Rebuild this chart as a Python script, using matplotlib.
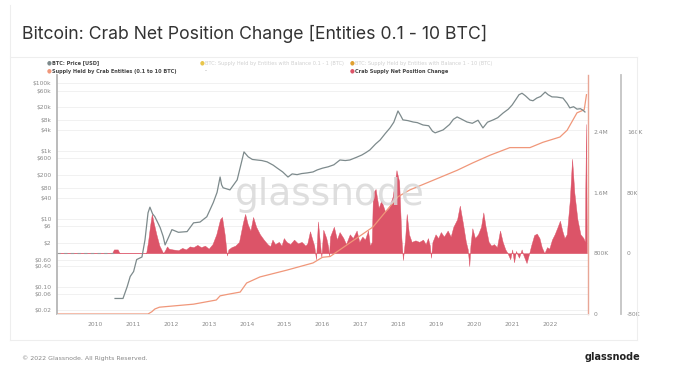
import matplotlib.pyplot as plt
from matplotlib.lines import Line2D
import numpy as np

# --- datos ---
price_years = [2010.53, 2010.74, 2010.85, 2010.93, 2011.02, 2011.1, 2011.24, 2011.32, 2011.4, 2011.45,
               2011.52, 2011.58, 2011.65, 2011.72, 2011.8, 2011.85, 2011.95, 2012.03, 2012.2, 2012.43,
               2012.6, 2012.77, 2012.95, 2013.12, 2013.22, 2013.3, 2013.34, 2013.38, 2013.56, 2013.75,
               2013.85, 2013.93, 2014.04, 2014.15, 2014.27, 2014.4, 2014.54, 2014.7, 2014.8, 2014.95,
               2015.09, 2015.2, 2015.33, 2015.45, 2015.6, 2015.75, 2015.86, 2016.0, 2016.15, 2016.3,
               2016.46, 2016.6, 2016.72, 2016.9, 2017.04, 2017.15, 2017.25, 2017.4, 2017.52, 2017.65,
               2017.78, 2017.88, 2017.99, 2018.06, 2018.12, 2018.25, 2018.39, 2018.5, 2018.65, 2018.8,
               2018.9, 2018.97, 2019.18, 2019.35, 2019.45, 2019.55, 2019.65, 2019.81, 2019.95, 2020.1,
               2020.23, 2020.35, 2020.5, 2020.62, 2020.76, 2020.9, 2021.0, 2021.1, 2021.18, 2021.26,
               2021.35, 2021.47, 2021.55, 2021.65, 2021.75, 2021.87, 2021.95, 2022.05, 2022.18, 2022.34,
               2022.45, 2022.52, 2022.62, 2022.71, 2022.8, 2022.86, 2022.92]
price_usd = [0.045, 0.045, 0.10, 0.20, 0.28, 0.63, 0.75, 2.4, 15, 22,
             14, 11.5, 8, 5.5, 3, 1.7, 3, 4.8, 4, 4.2,
             7.6, 8, 11.5, 30, 60, 170, 100, 82, 71, 140,
             400, 935, 670, 560, 540, 520, 475, 380, 315, 240,
             170, 210, 200, 215, 225, 240, 275, 310, 340, 390,
             540, 520, 540, 650, 760, 900, 1070, 1600, 2100, 3200,
             4750, 7000, 15000, 11000, 8200, 7800, 7100, 6800, 5800, 5500,
             3800, 3400, 4150, 6000, 8500, 10000, 8800, 7100, 6500, 8000,
             4750, 7000, 8200, 9500, 13000, 17000, 22500, 33000, 45000, 50000,
             42000, 31500, 30000, 36000, 40000, 54000, 45000, 39000, 38500, 36000,
             25000, 18500, 20000, 17000, 17500, 16000, 14000]

supply_years = [2009.0, 2011.4, 2011.5, 2011.58, 2011.7, 2012.6, 2013.2, 2013.3, 2013.5, 2013.83,
                2014.0, 2014.35, 2015.06, 2015.75, 2016.0, 2016.2, 2016.72, 2017.33, 2017.99, 2018.3,
                2018.83, 2019.55, 2019.97, 2020.42, 2020.94, 2021.47, 2021.81, 2022.26, 2022.45, 2022.71,
                2022.9, 2022.96]
supply_btc = [0, 0, 0.03e6, 0.066e6, 0.09e6, 0.13e6, 0.185e6, 0.24e6, 0.26e6, 0.29e6,
              0.41e6, 0.49e6, 0.58e6, 0.675e6, 0.75e6, 0.76e6, 0.94e6, 1.15e6, 1.55e6, 1.64e6,
              1.75e6, 1.90e6, 2.0e6, 2.1e6, 2.2e6, 2.2e6, 2.27e6, 2.34e6, 2.43e6, 2.66e6,
              2.7e6, 2.9e6]

net_years = [2009.0, 2010.45, 2010.5, 2010.6, 2010.65, 2011.35, 2011.4, 2011.45, 2011.5, 2011.55,
             2011.62, 2011.7, 2011.8, 2011.85, 2011.9, 2011.95, 2012.05, 2012.2, 2012.3, 2012.4,
             2012.5, 2012.6, 2012.7, 2012.8, 2012.9, 2013.0, 2013.1, 2013.2, 2013.3, 2013.35,
             2013.42, 2013.48, 2013.52, 2013.6, 2013.7, 2013.8, 2013.9, 2013.96, 2014.03, 2014.1,
             2014.17, 2014.25, 2014.35, 2014.45, 2014.55, 2014.62, 2014.68, 2014.75, 2014.85, 2014.92,
             2014.98, 2015.05, 2015.15, 2015.25, 2015.35, 2015.45, 2015.55, 2015.6, 2015.67, 2015.72,
             2015.78, 2015.83, 2015.88, 2015.92, 2015.97, 2016.02, 2016.1, 2016.15, 2016.17, 2016.2,
             2016.3, 2016.38, 2016.45, 2016.55, 2016.62, 2016.72, 2016.8, 2016.9, 2016.97, 2017.05,
             2017.12, 2017.2, 2017.25, 2017.3, 2017.33, 2017.4, 2017.48, 2017.55, 2017.65, 2017.75,
             2017.85, 2017.95, 2018.02, 2018.08, 2018.12, 2018.18, 2018.22, 2018.28, 2018.35, 2018.45,
             2018.55, 2018.65, 2018.72, 2018.78, 2018.83, 2018.86, 2018.9, 2018.98, 2019.05, 2019.12,
             2019.2, 2019.3, 2019.38, 2019.45, 2019.55, 2019.62, 2019.7, 2019.78, 2019.83, 2019.87,
             2019.9, 2019.95, 2020.02, 2020.1, 2020.18, 2020.24, 2020.3, 2020.38, 2020.45, 2020.52,
             2020.6, 2020.68, 2020.75, 2020.82, 2020.88, 2020.95, 2021.0, 2021.05, 2021.1, 2021.18,
             2021.25, 2021.3, 2021.38, 2021.45, 2021.5, 2021.58, 2021.65, 2021.72, 2021.78, 2021.85,
             2021.92, 2021.98, 2022.05, 2022.12, 2022.2, 2022.26, 2022.32, 2022.38, 2022.44, 2022.52,
             2022.58, 2022.64, 2022.72, 2022.8, 2022.88, 2022.92, 2022.93, 2022.95, 2022.97]
net_change_k = [0, 0, 5, 5, 0, 0, 15, 35, 52, 40,
                25, 10, 0, 4, 9, 6, 5, 4, 7, 5,
                9, 8, 11, 8, 10, 6, 12, 25, 45, 48,
                25, -3, 5, 8, 10, 15, 40, 52, 38, 30,
                48, 35, 25, 18, 12, 9, 18, 12, 15, 10,
                20, 15, 12, 18, 13, 15, 10, 13, 29, 20,
                10, -8, 42, 20, -5, 31, 20, 8, -4, 22,
                35, 18, 28, 20, 12, 25, 20, 30, 15, 22,
                18, 30, 10, 15, 80, 85, 60, 70, 55, 60,
                75, 110, 95, 20, -9, 20, 52, 25, 15, 17,
                15, 18, 12, 20, 10, -6, 15, 25, 20, 28,
                22, 30, 22, 35, 45, 63, 40, 15, 5, -17,
                10, 33, 20, 25, 35, 54, 35, 15, 10, 12,
                8, 30, 15, 5, 0, -8, 5, -12, 3, -6,
                5, -3, -13, 0, 10, 24, 26, 20, 8, 0,
                8, 6, 18, 25, 35, 43, 30, 20, 25, 70,
                125, 80, 45, 25, 20, 15, 90, 171, 0]
net_change = [v * 1000 for v in net_change_k]

year_ticks = list(range(2010, 2023))
price_ticks = [100000, 60000, 20000, 8000, 4000, 1000, 600, 200, 80, 40, 10, 6, 2, 0.6, 0.4, 0.1, 0.06, 0.02]
price_labels = ['$100k', '$60k', '$20k', '$8k', '$4k', '$1k', '$600', '$200', '$80', '$40',
                '$10', '$6', '$2', '$0.60', '$0.40', '$0.10', '$0.06', '$0.02']
supply_ticks = [0, 800000, 1600000, 2400000]
supply_labels = ['0', '800K', '1.6M', '2.4M']
net_ticks = [-80000, 0, 80000, 160000]
net_labels = ['-80K', '0', '80K', '160K']

legend_labels = ['BTC: Price [USD]', 'BTC: Supply Held by Entities with Balance 0.1 - 1 (BTC)',
                 'BTC: Supply Held by Entities with Balance 1 - 10 (BTC)',
                 'Supply Held by Crab Entities (0.1 to 10 BTC)', '', 'Crab Supply Net Position Change']

c_price = '#7d8a8c'
c_supply = '#f0977a'
c_net = '#dc5468'
tick_col = '#8a8a8a'

fig = plt.figure(figsize=(6.76, 3.73), dpi=100)
W, H = 676, 373

# marco de la tarjeta
for xs, ys in [([10, 10], [5, 340]), ([10, 637], [57, 57]), ([637, 637], [57, 340]), ([10, 637], [340, 340])]:
    fig.add_artist(Line2D([x / W for x in xs], [1 - y / H for y in ys], color='#eeeeee', lw=0.8))

fig.text(22 / W, 1 - 34 / H, 'Bitcoin: Crab Net Position Change [Entities 0.1 - 10 BTC]',
         fontsize=12.7, color='#333333', va='center', family='Inter')

pos = [57 / W, 1 - 314 / H, 531 / W, 239 / H]
ax3 = fig.add_axes(pos)               # cambio neto (abajo)
ax2 = fig.add_axes(pos, sharex=ax3)   # suministro
ax = fig.add_axes(pos, sharex=ax3)    # precio (arriba)
ax3.set_zorder(1)
ax2.set_zorder(2)
ax.set_zorder(3)
for a in (ax, ax2, ax3):
    a.patch.set_visible(False)
    for s in a.spines.values():
        s.set_visible(False)

ax.set_xlim(2009.0, 2023.0)

# precio
ax.set_yscale('log')
ax.set_ylim(0.0157, 172000)
ax.plot(price_years, price_usd, color=c_price, lw=0.9)
ax.set_yticks(price_ticks)
ax.set_yticklabels(price_labels)
ax.yaxis.set_minor_locator(plt.NullLocator())
ax.tick_params(axis='y', length=0, labelsize=4.3, labelcolor=tick_col, pad=4)
ax.set_xticks(year_ticks)
ax.set_xticklabels([str(y) for y in year_ticks])
ax.tick_params(axis='x', length=0, labelsize=4.3, labelcolor=tick_col, pad=6)
ax.spines['left'].set_visible(True)
ax.spines['left'].set_color('#b5b5b5')
ax.spines['left'].set_linewidth(1.3)
ax.spines['bottom'].set_visible(True)
ax.spines['bottom'].set_color('#e6e6e6')
ax.spines['bottom'].set_linewidth(0.7)

# lineas de cuadricula (en el eje de abajo)
lo, hi = np.log10(0.0157), np.log10(172000)
for p in price_ticks:
    f = (np.log10(p) - lo) / (hi - lo)
    ax3.plot([0, 1], [f, f], transform=ax3.transAxes, color='#efefef', lw=0.6, zorder=0)

# suministro
ax2.set_ylim(0, 3.16e6)
ax2.plot(supply_years, supply_btc, color=c_supply, lw=0.9)
ax2.yaxis.tick_right()
ax2.set_yticks(supply_ticks)
ax2.set_yticklabels(supply_labels)
ax2.tick_params(axis='y', length=0, labelsize=4.3, labelcolor=tick_col, pad=4)
ax2.tick_params(axis='x', bottom=False, labelbottom=False)
ax2.spines['right'].set_visible(True)
ax2.spines['right'].set_color('#e8a696')
ax2.spines['right'].set_linewidth(1.0)

# cambio neto
ax3.set_ylim(-80500, 236000)
ax3.fill_between(net_years, net_change, 0, color=c_net, lw=0.3, edgecolor=c_net)
ax3.plot([2009.0, 2010.5], [0, 0], color='#999999', lw=0.8, ls=(0, (3, 3)))
ax3.yaxis.tick_right()
ax3.set_yticks(net_ticks)
ax3.set_yticklabels(net_labels)
ax3.tick_params(axis='y', length=0, labelsize=4.3, labelcolor=tick_col, pad=4)
ax3.tick_params(axis='x', bottom=False, labelbottom=False)
ax3.spines['right'].set_visible(True)
ax3.spines['right'].set_position(('outward', 24))
ax3.spines['right'].set_color('#c4c4c4')
ax3.spines['right'].set_linewidth(1.3)

# leyenda manual
leg_pos = [(47, 63), (200, 63), (350, 63), (47, 71), (200, 71), (350, 71)]
leg_cols = [c_price, '#e8c54a', '#e0a030', c_supply, None, c_net]
leg_txt = ['#444444', '#d0d0d0', '#d0d0d0', '#444444', '#444444', '#444444']
leg_w = ['bold', 'normal', 'normal', 'bold', 'normal', 'bold']
for (lx, ly), lab, mc, tc, fw in zip(leg_pos, legend_labels, leg_cols, leg_txt, leg_w):
    if mc is None:
        fig.text((lx + 5) / W, 1 - ly / H, '-', fontsize=4, color='#999999', va='center')
        continue
    fig.text(lx / W, 1 - ly / H, '\u25cf', fontsize=4, color=mc, va='center')
    fig.text((lx + 5) / W, 1 - ly / H, lab, fontsize=3.6, color=tc, va='center', weight=fw)

# marca de agua
fig.text(330 / W, 1 - 195 / H, 'glassnode', fontsize=27, color='#d9d9d9', ha='center', va='center',
         alpha=0.85, zorder=10)

fig.text(22 / W, 1 - 358 / H, '\u00a9 2022 Glassnode. All Rights Reserved.', fontsize=4.5,
         color='#888888', va='center')
fig.text(640 / W, 1 - 357 / H, 'glassnode', fontsize=7, color='#222222', ha='right', va='center',
         weight='bold')

plt.savefig('out.png', dpi=100)
